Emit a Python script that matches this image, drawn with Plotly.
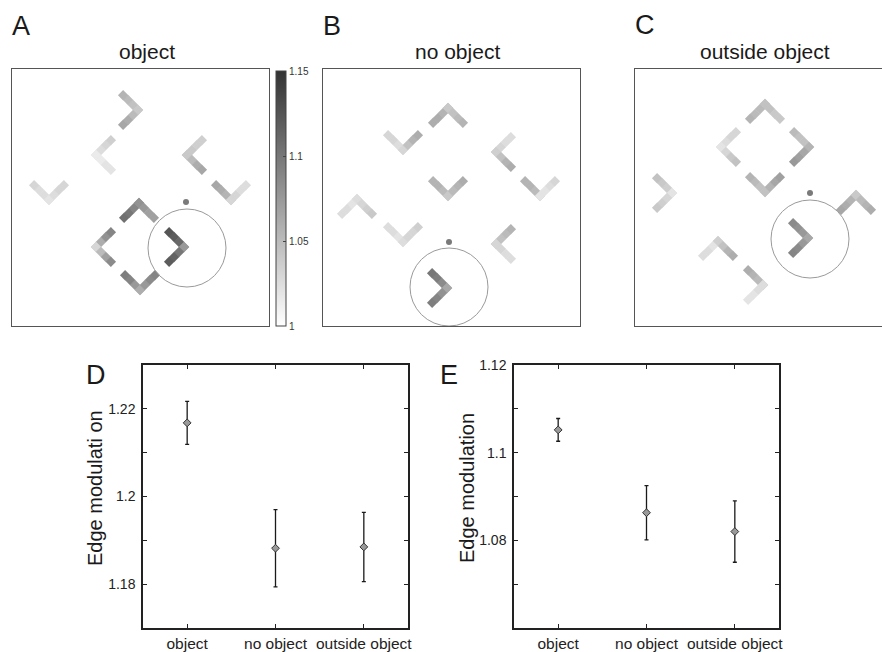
import plotly.graph_objects as go

# ---------------- data ----------------
# Stimulus panels: chevron kind, vertex position (panel units, 1 unit = 1 px), values along each arm
A_kind = [">", "<", "<", "v", "v", "^", "<", ">", "v"]
A_x = [126, 84, 175, 37, 219, 127, 84, 172, 128]
A_y = [216, 171, 171, 126, 126, 123, 79, 79, 36]
A_arm1 = [[1.040, 1.045, 1.050, 1.055], [1.020, 1.025, 1.030, 1.035], [1.045, 1.040, 1.035, 1.035],
          [1.020, 1.025, 1.025, 1.030], [1.040, 1.055, 1.060, 1.065], [1.080, 1.090, 1.100, 1.105],
          [1.040, 1.060, 1.080, 1.090], [1.080, 1.110, 1.120, 1.125], [1.055, 1.075, 1.090, 1.095]]
A_arm2 = [[1.040, 1.050, 1.060, 1.065], [1.015, 1.015, 1.020, 1.020], [1.040, 1.050, 1.060, 1.065],
          [1.020, 1.025, 1.030, 1.030], [1.030, 1.030, 1.025, 1.025], [1.080, 1.075, 1.070, 1.070],
          [1.030, 1.050, 1.070, 1.085], [1.075, 1.100, 1.115, 1.120], [1.060, 1.075, 1.085, 1.090]]
A_circle = (175, 78, 39)
A_dot = (174, 124)

B_kind = ["^", "v", "<", "v", "v", "^", "v", "<", ">"]
B_x = [125, 80, 173, 125, 217, 34, 80, 173, 124]
B_y = [218, 176, 174, 130, 130, 127, 84, 82, 38]
B_arm1 = [[1.050, 1.055, 1.060, 1.060], [1.020, 1.025, 1.030, 1.030], [1.030, 1.030, 1.025, 1.025],
          [1.040, 1.050, 1.055, 1.055], [1.040, 1.050, 1.055, 1.055], [1.020, 1.020, 1.025, 1.025],
          [1.020, 1.020, 1.025, 1.025], [1.040, 1.045, 1.050, 1.055], [1.070, 1.085, 1.095, 1.100]]
B_arm2 = [[1.040, 1.045, 1.050, 1.055], [1.030, 1.045, 1.055, 1.060], [1.035, 1.045, 1.055, 1.060],
          [1.040, 1.050, 1.055, 1.060], [1.020, 1.020, 1.025, 1.030], [1.025, 1.030, 1.035, 1.040],
          [1.025, 1.030, 1.030, 1.035], [1.030, 1.030, 1.025, 1.025], [1.065, 1.080, 1.090, 1.095]]
B_circle = (126, 39, 39)
B_dot = (126, 84)

C_kind = ["^", "<", ">", "v", ">", "^", ">", "^", ">"]
C_x = [130, 86, 174, 130, 37, 221, 173, 83, 128]
C_y = [222, 179, 179, 134, 133, 131, 88, 85, 41]
C_arm1 = [[1.045, 1.050, 1.050, 1.055], [1.020, 1.025, 1.030, 1.030], [1.040, 1.045, 1.045, 1.050],
          [1.035, 1.045, 1.050, 1.055], [1.025, 1.035, 1.040, 1.045], [1.045, 1.055, 1.060, 1.065],
          [1.060, 1.075, 1.080, 1.085], [1.020, 1.020, 1.025, 1.025], [1.045, 1.050, 1.055, 1.060]]
C_arm2 = [[1.045, 1.045, 1.040, 1.040], [1.020, 1.030, 1.040, 1.045], [1.055, 1.065, 1.070, 1.075],
          [1.045, 1.055, 1.065, 1.070], [1.020, 1.030, 1.035, 1.040], [1.040, 1.050, 1.055, 1.060],
          [1.065, 1.075, 1.085, 1.090], [1.035, 1.045, 1.055, 1.060], [1.025, 1.025, 1.020, 1.020]]
C_circle = (175, 87, 39)
C_dot = (175, 133)

panel_titles = ["object", "no object", "outside object"]
cbar_ticks = [1, 1.05, 1.1, 1.15]

# Summary panels
categories = ["object", "no object", "outside object"]
D_mean = [1.2168, 1.1882, 1.1885]
D_err = [0.0049, 0.0088, 0.0079]
E_mean = [1.1052, 1.0863, 1.0820]
E_err = [0.0026, 0.0062, 0.0070]
D_ticks = [1.18, 1.19, 1.20, 1.21, 1.22]
D_ticklabels = ["1.18", "", "1.2", "", "1.22"]
E_ticks = [1.07, 1.08, 1.09, 1.10, 1.11, 1.12]
E_ticklabels = ["", "1.08", "", "1.1", "", "1.12"]

# ---------------- figure ----------------
W, H = 882, 652
FONT = "Liberation Sans, Arial, Helvetica, sans-serif"
DIRS = {">": [(-1, 1), (-1, -1)], "<": [(1, 1), (1, -1)],
        "^": [(-1, -1), (1, -1)], "v": [(-1, 1), (1, 1)]}
STEP = 4.95


def px_x(v):
    return v / W


def px_y(v):
    return (H - v) / H


def chevron_points(kinds, xs, ys, arm1, arm2):
    px, py, pv = [], [], []
    for k, x, y, a1, a2 in zip(kinds, xs, ys, arm1, arm2):
        for (dx, dy), vals in zip(DIRS[k], (a1, a2)):
            for i, v in enumerate(vals):
                px.append(x + dx * STEP * i)
                py.append(y + dy * STEP * i)
                pv.append(v)
    return px, py, pv


fig = go.Figure()

panels = [
    ("x", "y", A_kind, A_x, A_y, A_arm1, A_arm2, A_circle, A_dot),
    ("x2", "y2", B_kind, B_x, B_y, B_arm1, B_arm2, B_circle, B_dot),
    ("x3", "y3", C_kind, C_x, C_y, C_arm1, C_arm2, C_circle, C_dot),
]
shapes = []
for xa, ya, kinds, xs, ys, a1, a2, circ, dot in panels:
    px, py, pv = chevron_points(kinds, xs, ys, a1, a2)
    fig.add_trace(go.Scatter(
        x=px, y=py, mode="markers", xaxis=xa, yaxis=ya, hoverinfo="skip",
        marker=dict(symbol="square", angle=45, size=7.4, color=pv,
                    coloraxis="coloraxis", line=dict(width=0)),
    ))
    cx, cy, r = circ
    shapes.append(dict(type="circle", xref=xa, yref=ya, x0=cx - r, x1=cx + r,
                       y0=cy - r, y1=cy + r, line=dict(color="#9a9a9a", width=1)))
    fig.add_trace(go.Scatter(x=[dot[0]], y=[dot[1]], mode="markers", xaxis=xa, yaxis=ya,
                             hoverinfo="skip",
                             marker=dict(size=6, color="#7a7a7a", line=dict(width=0))))

# summary scatter with error bars
for xa, ya, means, errs in [("x4", "y4", D_mean, D_err), ("x5", "y5", E_mean, E_err)]:
    fig.add_trace(go.Scatter(
        x=[1, 2, 3], y=means, mode="markers", xaxis=xa, yaxis=ya,
        error_y=dict(type="data", array=errs, color="#1a1a1a", thickness=1.3, width=2),
        marker=dict(symbol="diamond", size=6, color="#9a9a9a", line=dict(color="#333333", width=1)),
    ))

stim_box = dict(showgrid=False, zeroline=False, showticklabels=False, ticks="",
                showline=True, linecolor="#555555", linewidth=1, fixedrange=True)
y_dom = [px_y(326), px_y(69)]

layout = dict(
    width=W, height=H, margin=dict(l=0, r=0, t=0, b=0, pad=0, autoexpand=False),
    paper_bgcolor="white", plot_bgcolor="white", showlegend=False,
    font=dict(family=FONT, color="#222222"),
    xaxis=dict(domain=[px_x(12), px_x(269)], range=[0, 257], mirror=True, anchor="y", **stim_box),
    yaxis=dict(domain=y_dom, range=[0, 257], mirror=True, anchor="x", **stim_box),
    xaxis2=dict(domain=[px_x(323), px_x(580)], range=[0, 257], mirror=True, anchor="y2", **stim_box),
    yaxis2=dict(domain=y_dom, range=[0, 257], mirror=True, anchor="x2", **stim_box),
    xaxis3=dict(domain=[px_x(635), 1.0], range=[0, 247], mirror=True, anchor="y3", **stim_box),
    yaxis3=dict(domain=y_dom, range=[0, 257], mirror=False, anchor="x3", **stim_box),
    coloraxis=dict(
        cmin=1, cmax=1.15,
        colorscale=[[0, "#ffffff"], [1, "#333333"]],
        colorbar=dict(
            x=px_x(276), xanchor="left", xpad=0,
            y=px_y(326), yanchor="bottom", len=(326 - 71) / H, lenmode="fraction", ypad=0,
            thickness=10, thicknessmode="pixels",
            outlinewidth=1, outlinecolor="#444444",
            tickvals=cbar_ticks, ticktext=[str(t) for t in cbar_ticks],
            ticks="inside", ticklen=3, tickcolor="#444444",
            tickfont=dict(size=10, color="#333333", family=FONT),
        ),
    ),
    shapes=shapes,
)

sum_x = dict(range=[0.5, 3.5], tickvals=[1, 2, 3], ticktext=categories, ticks="inside",
             ticklen=4, tickcolor="#222222", showline=True, linecolor="#222222", linewidth=1.5,
             mirror="ticks", showgrid=False, zeroline=False, fixedrange=True, automargin=False,
             tickfont=dict(size=15.5, family=FONT, color="#222222"), ticklabelstandoff=1)
sum_y = dict(ticks="inside", ticklen=4, tickcolor="#222222", showline=True, linecolor="#222222",
             linewidth=1.5, mirror="ticks", showgrid=False, zeroline=False, fixedrange=True,
             automargin=False,
             tickfont=dict(size=14, family=FONT, color="#222222"), ticklabelstandoff=3)
y_dom2 = [px_y(628), px_y(365)]
layout["xaxis4"] = dict(domain=[px_x(143), px_x(408)], anchor="y4", **sum_x)
layout["yaxis4"] = dict(domain=y_dom2, range=[1.17, 1.23], tickvals=D_ticks, ticktext=D_ticklabels,
                        anchor="x4", **sum_y)
layout["xaxis5"] = dict(domain=[px_x(514), px_x(779)], anchor="y5", **sum_x)
layout["yaxis5"] = dict(domain=y_dom2, range=[1.06, 1.12], tickvals=E_ticks, ticktext=E_ticklabels,
                        anchor="x5", **sum_y)

fig.update_layout(**layout)

ann = []
for letter, (lx, ly) in zip("ABCDE", [(21, 26), (332, 26), (645, 25), (96, 375), (449, 375)]):
    ann.append(dict(text=letter, x=px_x(lx), y=px_y(ly), xref="paper", yref="paper",
                    showarrow=False, xanchor="center", yanchor="middle",
                    font=dict(size=27, family=FONT, color="#1a1a1a")))
for title, tx in zip(panel_titles, [147, 457, 765]):
    ann.append(dict(text=title, x=px_x(tx), y=px_y(52), xref="paper", yref="paper",
                    showarrow=False, xanchor="center", yanchor="middle",
                    font=dict(size=21, family=FONT, color="#1a1a1a")))
for label, lx in [("Edge modulati on", 95), ("Edge modulation", 467)]:
    ann.append(dict(text=label, x=px_x(lx), y=px_y(488), xref="paper", yref="paper",
                    showarrow=False, textangle=-90, xanchor="center", yanchor="middle",
                    font=dict(size=20, family=FONT, color="#1a1a1a")))
fig.update_layout(annotations=ann)

fig.write_html(
    "out.html",
    config={"displayModeBar": False},
    post_script="document.body.style.margin='0';document.documentElement.style.overflow='hidden';",
)
